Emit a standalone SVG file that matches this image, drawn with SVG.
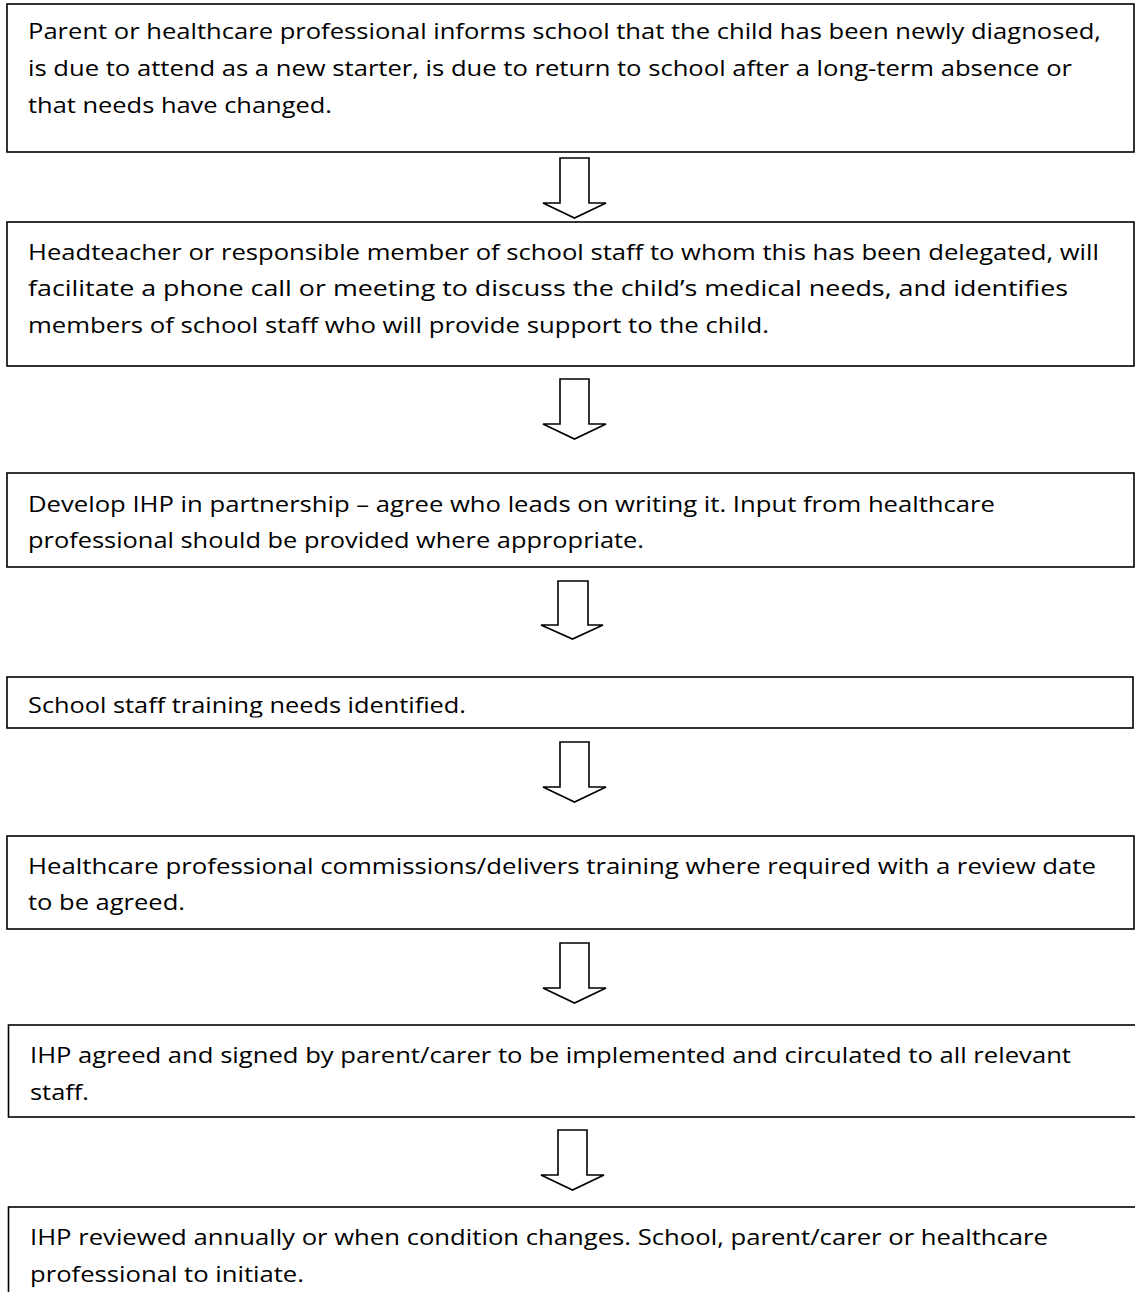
<svg xmlns="http://www.w3.org/2000/svg" width="1135" height="1292" viewBox="0 0 1135 1292">
<style>
.box{fill:#fff;stroke:#000;stroke-width:1.6}
.t{font-family:"Open Sans",Lato,"Liberation Sans",sans-serif;font-size:22.5px;fill:#000}
.arr{fill:#fff;stroke:#000;stroke-width:1.6;stroke-linejoin:miter}
</style>
<defs>
<clipPath id="clip4"><rect x="0" y="677" width="1135" height="40.5"/></clipPath>
</defs>
<rect width="1135" height="1292" fill="#fff"/>
<g id="connectors">
<polygon class="arr" points="560,158 589,158 589,203 606,203 574.5,218 543,203 560,203"/>
<polygon class="arr" points="560,379 589,379 589,424 606,424 574.5,439 543,424 560,424"/>
<polygon class="arr" points="558,581 588,581 588,625 603,625 572.5,639 541,625 558,625"/>
<polygon class="arr" points="560,742 589,742 589,787 606,787 574.5,802 543,787 560,787"/>
<polygon class="arr" points="560,943 589,943 589,988 606,988 574.5,1003 543,988 560,988"/>
<polygon class="arr" points="558,1130 587,1130 587,1175 604,1175 572.5,1190 541,1175 558,1175"/>
</g>
<g id="node1">
<rect class="box" x="7" y="4" width="1127" height="148"/>
<text class="t" x="28" y="39" textLength="1073" lengthAdjust="spacingAndGlyphs">Parent or healthcare professional informs school that the child has been newly diagnosed,</text>
<text class="t" x="28" y="76" textLength="1044" lengthAdjust="spacingAndGlyphs">is due to attend as a new starter, is due to return to school after a long-term absence or</text>
<text class="t" x="28" y="113" textLength="304" lengthAdjust="spacingAndGlyphs">that needs have changed.</text>
</g>
<g id="node2">
<rect class="box" x="7" y="222" width="1127" height="144"/>
<text class="t" x="28" y="260" textLength="1071" lengthAdjust="spacingAndGlyphs">Headteacher or responsible member of school staff to whom this has been delegated, will</text>
<text class="t" x="28" y="296" textLength="1040" lengthAdjust="spacingAndGlyphs">facilitate a phone call or meeting to discuss the child’s medical needs, and identifies</text>
<text class="t" x="28" y="333" textLength="741" lengthAdjust="spacingAndGlyphs">members of school staff who will provide support to the child.</text>
</g>
<g id="node3">
<rect class="box" x="7" y="473" width="1127" height="94"/>
<text class="t" x="28" y="512" textLength="967" lengthAdjust="spacingAndGlyphs">Develop IHP in partnership – agree who leads on writing it. Input from healthcare</text>
<text class="t" x="28" y="548" textLength="616" lengthAdjust="spacingAndGlyphs">professional should be provided where appropriate.</text>
</g>
<g id="node4">
<rect class="box" x="7" y="677" width="1126" height="51"/>
<text class="t" x="28" y="713" textLength="438" lengthAdjust="spacingAndGlyphs" clip-path="url(#clip4)">School staff training needs identified.</text>
</g>
<g id="node5">
<rect class="box" x="7" y="836" width="1127" height="93"/>
<text class="t" x="28" y="874" textLength="1068" lengthAdjust="spacingAndGlyphs">Healthcare professional commissions/delivers training where required with a review date</text>
<text class="t" x="28" y="910" textLength="157" lengthAdjust="spacingAndGlyphs">to be agreed.</text>
</g>
<g id="node6">
<rect class="box" x="8.5" y="1025" width="1140" height="92"/>
<text class="t" x="30" y="1063" textLength="1041" lengthAdjust="spacingAndGlyphs">IHP agreed and signed by parent/carer to be implemented and circulated to all relevant</text>
<text class="t" x="30" y="1100" textLength="59" lengthAdjust="spacingAndGlyphs">staff.</text>
</g>
<g id="node7">
<rect class="box" x="8.5" y="1207" width="1140" height="100"/>
<text class="t" x="30" y="1245" textLength="1018" lengthAdjust="spacingAndGlyphs">IHP reviewed annually or when condition changes. School, parent/carer or healthcare</text>
<text class="t" x="30" y="1282" textLength="274" lengthAdjust="spacingAndGlyphs">professional to initiate.</text>
</g>
</svg>
